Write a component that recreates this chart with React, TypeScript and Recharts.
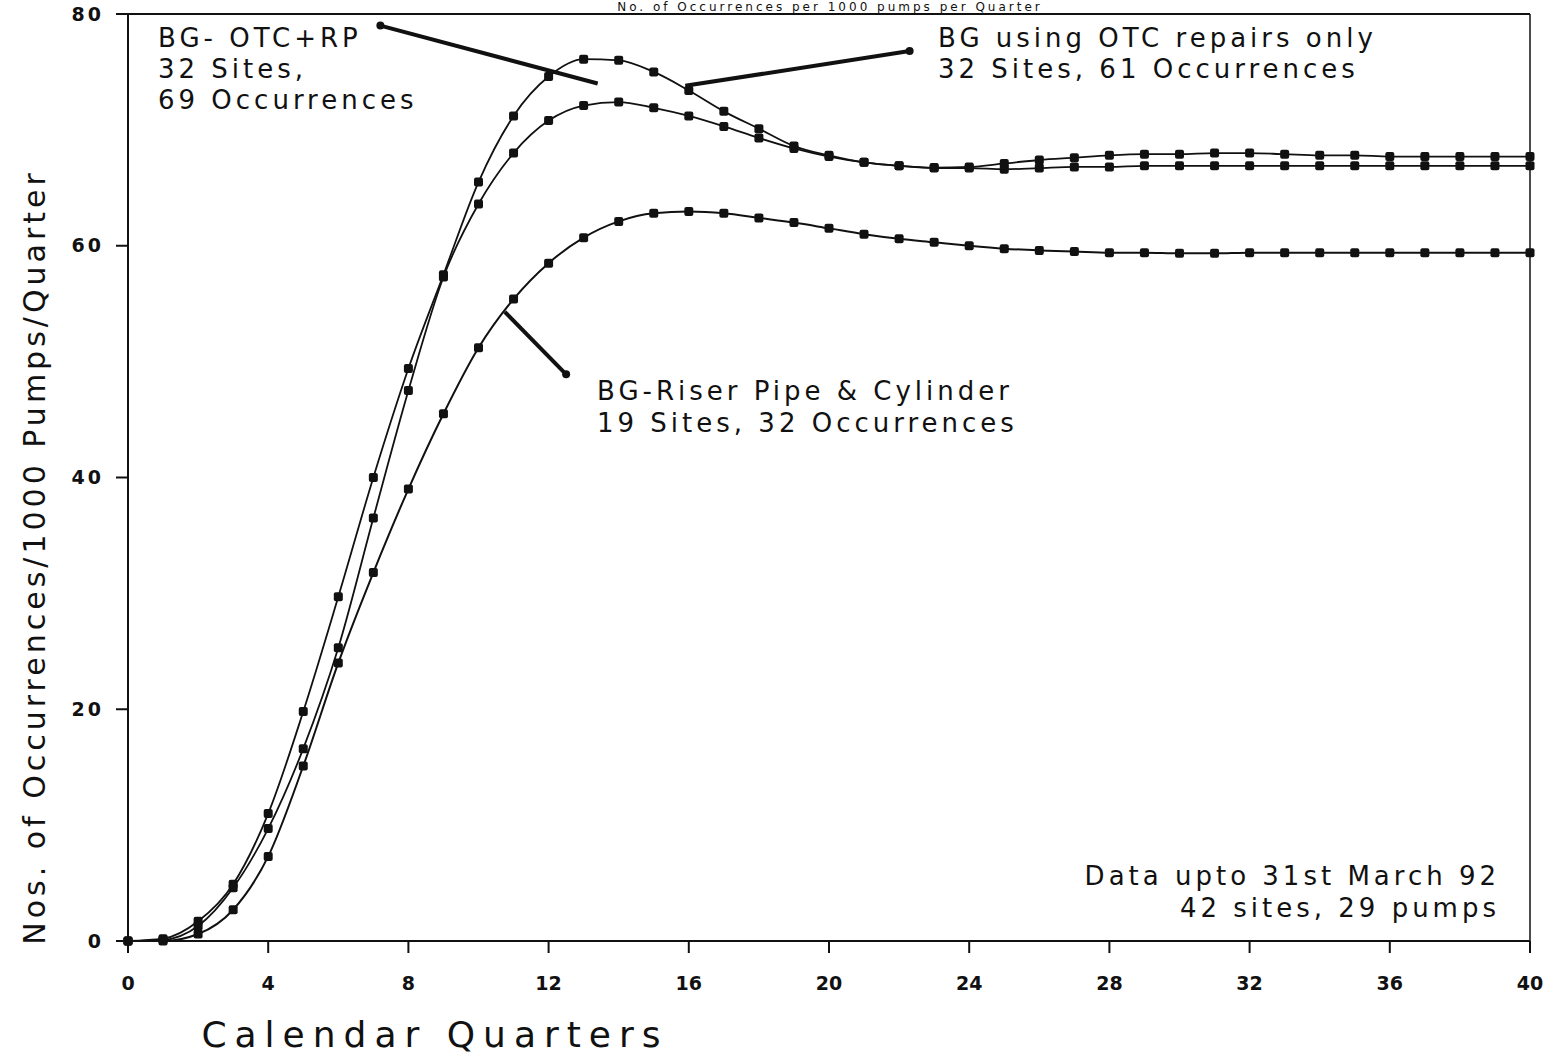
import React from 'react';
import { LineChart, Line, XAxis, YAxis, ReferenceLine, ReferenceDot } from 'recharts';

// Calendar quarter index 0..40
const quarters = Array.from({ length: 41 }, (_, i) => i);

// BG- OTC+RP (highest peak)
const otcRp = [
    0, 0.2, 1.7, 4.9, 11.0, 19.8, 29.7, 40.0, 49.4, 57.5,
    65.5, 71.2, 74.6, 76.1, 76.0, 75.0, 73.4, 71.6, 70.1, 68.6,
    67.8, 67.2, 66.9, 66.75, 66.8, 67.1, 67.4, 67.6, 67.8, 67.9,
    67.9, 68.0, 68.0, 67.9, 67.8, 67.8, 67.7, 67.7, 67.7, 67.7, 67.7,
];

// BG using OTC repairs only
const otcOnly = [
    0, 0.1, 1.3, 4.6, 9.7, 16.6, 25.3, 36.5, 47.5, 57.3,
    63.6, 68.0, 70.8, 72.1, 72.4, 71.9, 71.2, 70.3, 69.3, 68.4,
    67.7, 67.2, 66.9, 66.7, 66.7, 66.6, 66.7, 66.8, 66.8, 66.9,
    66.9, 66.9, 66.9, 66.9, 66.9, 66.9, 66.9, 66.9, 66.9, 66.9, 66.9,
];

// BG-Riser Pipe & Cylinder
const riserPipe = [
    0, 0, 0.6, 2.7, 7.3, 15.1, 24.0, 31.8, 39.0, 45.5,
    51.2, 55.4, 58.5, 60.7, 62.1, 62.8, 62.95, 62.8, 62.4, 62.0,
    61.5, 61.0, 60.6, 60.3, 60.0, 59.75, 59.6, 59.5, 59.4, 59.4,
    59.35, 59.35, 59.4, 59.4, 59.4, 59.4, 59.4, 59.4, 59.4, 59.4, 59.4,
];

const xTicks = [0, 4, 8, 12, 16, 20, 24, 28, 32, 36, 40];
const yTicks = [0, 20, 40, 60, 80];

// annotation arrows: [tail, head] in data units
const arrowOtcRp = [{ x: 13.4, y: 74.0 }, { x: 7.2, y: 79.0 }];
const arrowOtcOnly = [{ x: 15.9, y: 73.8 }, { x: 22.3, y: 76.8 }];
const arrowRiser = [{ x: 10.75, y: 54.3 }, { x: 12.5, y: 48.9 }];

const chartData = quarters.map((q, i) => ({
    q,
    otcRp: otcRp[i],
    otcOnly: otcOnly[i],
    riserPipe: riserPipe[i],
}));

const W = 1557;
const H = 1063;
const INK = '#111';
const textFont = '"DejaVu Sans", sans-serif';

const SquareDot = (props: any) => {
    const { cx, cy } = props;
    if (cx == null || cy == null) return null;
    return <rect x={cx - 4.5} y={cy - 4.5} width={9} height={9} rx={2} fill={INK} />;
};

const App: React.FC = () => {
    const annot = { fontFamily: textFont, fontSize: 26, letterSpacing: 4, fill: INK };
    return (
        <div style={{ position: 'absolute', left: 0, top: 0, width: W, height: H, background: '#fff' }}>
            <LineChart
                width={W}
                height={H}
                data={chartData}
                margin={{ top: 14, right: 27, left: 68, bottom: 92 }}
            >
                <XAxis
                    dataKey="q"
                    type="number"
                    domain={[0, 40]}
                    ticks={xTicks}
                    interval={0}
                    height={30}
                    tickSize={12}
                    tickMargin={24}
                    stroke={INK}
                    strokeWidth={2}
                    tick={{ fill: INK, fontSize: 19, fontWeight: 'bold', fontFamily: textFont }}
                />
                <YAxis
                    type="number"
                    domain={[0, 80]}
                    ticks={yTicks}
                    interval={0}
                    width={60}
                    tickSize={12}
                    tickMargin={12}
                    stroke={INK}
                    strokeWidth={2}
                    tick={{ fill: INK, fontSize: 19, fontWeight: 'bold', fontFamily: textFont, letterSpacing: 3 }}
                />
                <ReferenceLine y={80} stroke={INK} strokeWidth={2} />
                <ReferenceLine x={40} stroke={INK} strokeWidth={1.5} />

                <Line type="monotone" dataKey="otcRp" stroke={INK} strokeWidth={1.8} dot={<SquareDot />} isAnimationActive={false} />
                <Line type="monotone" dataKey="otcOnly" stroke={INK} strokeWidth={1.8} dot={<SquareDot />} isAnimationActive={false} />
                <Line type="monotone" dataKey="riserPipe" stroke={INK} strokeWidth={2} dot={<SquareDot />} isAnimationActive={false} />

                <ReferenceLine segment={arrowOtcRp} stroke={INK} strokeWidth={4} />
                <ReferenceDot x={arrowOtcRp[1].x} y={arrowOtcRp[1].y} r={4} fill={INK} stroke="none" />
                <ReferenceLine segment={arrowOtcOnly} stroke={INK} strokeWidth={4} />
                <ReferenceDot x={arrowOtcOnly[1].x} y={arrowOtcOnly[1].y} r={4} fill={INK} stroke="none" />
                <ReferenceLine segment={arrowRiser} stroke={INK} strokeWidth={4} />
                <ReferenceDot x={arrowRiser[1].x} y={arrowRiser[1].y} r={4} fill={INK} stroke="none" />
            </LineChart>

            <svg width={W} height={H} style={{ position: 'absolute', left: 0, top: 0, pointerEvents: 'none' }}>
                <text x={830} y={11} textAnchor="middle" fontFamily={textFont} fontSize={12} letterSpacing={3} fill={INK}>
                    No. of Occurrences per 1000 pumps per Quarter
                </text>

                <text x={158} y={47} {...annot}>BG- OTC+RP</text>
                <text x={158} y={78} {...annot}>32 Sites,</text>
                <text x={158} y={109} {...annot}>69 Occurrences</text>

                <text x={938} y={47} {...annot}>BG using OTC repairs only</text>
                <text x={938} y={78} {...annot}>32 Sites, 61 Occurrences</text>

                <text x={597} y={400} {...annot}>BG-Riser Pipe &amp; Cylinder</text>
                <text x={597} y={432} {...annot}>19 Sites, 32 Occurrences</text>

                <text x={1500} y={885} textAnchor="end" {...annot}>Data upto 31st March 92</text>
                <text x={1500} y={917} textAnchor="end" {...annot}>42 sites, 29 pumps</text>

                <text x={435} y={1047} textAnchor="middle" fontFamily={textFont} fontSize={36} letterSpacing={8} fill={INK}>
                    Calendar Quarters
                </text>
                <text
                    transform="translate(45, 557) rotate(-90)"
                    textAnchor="middle"
                    fontFamily={textFont}
                    fontSize={30}
                    letterSpacing={4}
                    fill={INK}
                >
                    Nos. of Occurrences/1000 Pumps/Quarter
                </text>
            </svg>
        </div>
    );
};

export default App;
